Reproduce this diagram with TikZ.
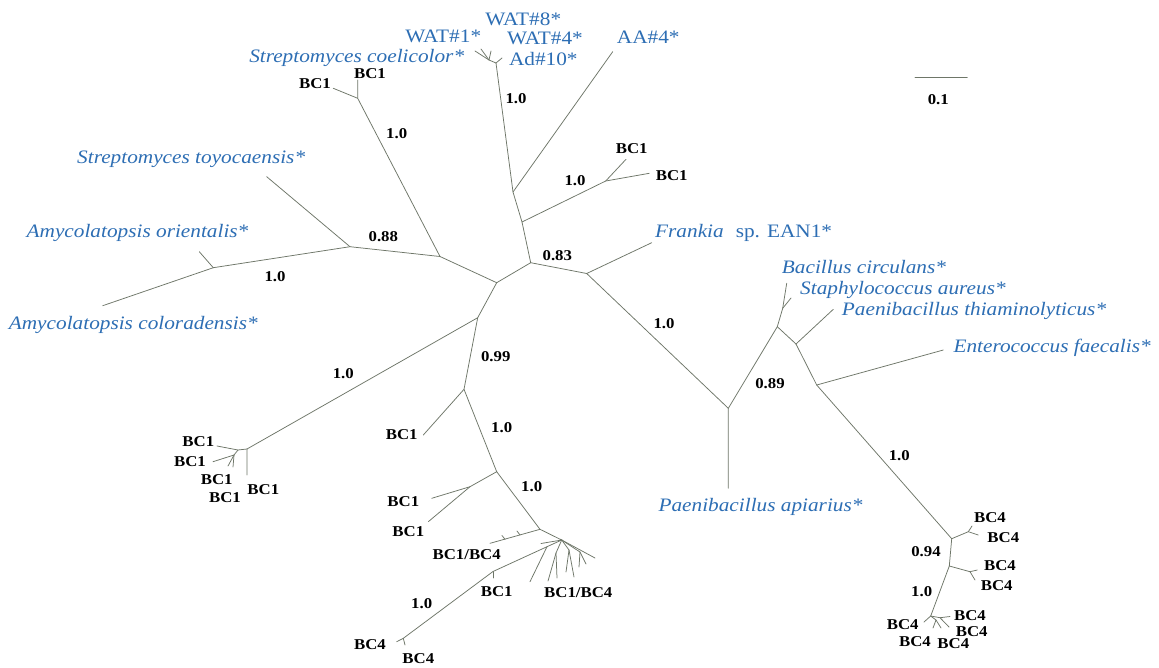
\documentclass[tikz,border=0pt]{standalone}
\usepackage{fontspec}
\setmainfont{Liberation Serif}[FakeStretch=1.12]
\definecolor{tax}{RGB}{45,110,180}
\definecolor{br}{RGB}{110,118,104}
\tikzset{
  branch/.style={draw=br, line width=0.75pt, line cap=round},
  taxon/.style={text=tax, font=\fontsize{19}{21}\selectfont\itshape, inner sep=0pt},
  taxonup/.style={text=tax, font=\fontsize{19}{21}\selectfont, inner sep=0pt},
  bc/.style={font=\fontsize{15}{17}\selectfont\bfseries, inner sep=0pt},
}
\begin{document}
\begin{tikzpicture}[x=1pt,y=-1pt]
\useasboundingbox[fill=white] (0,0) rectangle (1159,667);

% ---------- internal nodes and leaves ----------
\coordinate (c1) at (530.7,262.7);
\coordinate (b1) at (522,222);
\coordinate (b2) at (513,192);
\coordinate (wt) at (496,63);
\coordinate (w1) at (489,60);
\coordinate (wl1) at (475,51);
\coordinate (wl2) at (481,49);
\coordinate (wl3) at (491,51);
\coordinate (wl4) at (502,58);
\coordinate (aal) at (612.7,51.7);
\coordinate (bp) at (605.7,181);
\coordinate (bpl1) at (626,159.3);
\coordinate (bpl2) at (649.3,173.3);
\coordinate (f) at (586.7,273.5);
\coordinate (frl) at (651.7,242.7);
\coordinate (s) at (728.3,408.3);
\coordinate (apl) at (728.3,488.3);
\coordinate (t) at (777.3,326.7);
\coordinate (u) at (782.7,308.3);
\coordinate (bcl) at (786.7,283.3);
\coordinate (stl) at (791,298);
\coordinate (v) at (796,344);
\coordinate (thl) at (833.3,309.3);
\coordinate (w) at (816.7,385);
\coordinate (enl) at (943.3,350);
\coordinate (x) at (951.7,538.7);
\coordinate (x1) at (968.3,531.7);
\coordinate (x1a) at (972,526);
\coordinate (x1b) at (978.3,535);
\coordinate (y) at (949.3,566);
\coordinate (y1) at (970,571.7);
\coordinate (y1a) at (977.3,570);
\coordinate (y1b) at (975,580);
\coordinate (z) at (930.7,616);
\coordinate (z1) at (940,617.7);
\coordinate (z1a) at (950,616.5);
\coordinate (z1b) at (949,627);
\coordinate (z2) at (936,620);
\coordinate (z2a) at (933,628);
\coordinate (z2b) at (941,628);
\coordinate (z3) at (924,622);

\coordinate (c0) at (496.7,282.7);
\coordinate (l) at (440,256.5);
\coordinate (p) at (357.7,98.3);
\coordinate (pl1) at (357.7,80);
\coordinate (pl2) at (333.3,88.3);
\coordinate (m) at (350,246.7);
\coordinate (toyl) at (266.7,176.7);
\coordinate (n) at (213.3,267.7);
\coordinate (orl) at (199.3,251.7);
\coordinate (col) at (102.7,305.7);
\coordinate (d) at (477.7,317.7);
\coordinate (g) at (247,449);
\coordinate (gl) at (247,475);
\coordinate (h) at (238,450);
\coordinate (hl) at (217,446);
\coordinate (h2) at (234,455);
\coordinate (h2a) at (213,461.7);
\coordinate (h2b) at (228,466);
\coordinate (h2c) at (233,467);
\coordinate (e) at (464,389.3);
\coordinate (el) at (423.3,435);
\coordinate (j) at (496.7,471.7);
\coordinate (k) at (470,486.7);
\coordinate (kl1) at (431.7,498.3);
\coordinate (kl2) at (428.3,521.7);
\coordinate (q) at (540,529.3);
\coordinate (ql) at (490,543.3);
\coordinate (qt1) at (520,535);
\coordinate (qt1e) at (517,531);
\coordinate (qt2) at (505,539.3);
\coordinate (qt2e) at (502,535.5);
\coordinate (r) at (561.7,540);
\coordinate (rl0) at (541,543.5);
\coordinate (rb) at (547,546.7);
\coordinate (rbl) at (530,581.7);
\coordinate (bn1) at (493,571.5);
\coordinate (bn1l) at (493,578);
\coordinate (bn2) at (403.3,638.3);
\coordinate (bn2a) at (396.7,641.7);
\coordinate (bn2b) at (405,645);
\coordinate (g1) at (556,553);
\coordinate (g1a) at (548,581);
\coordinate (g1b) at (557,578);
\coordinate (g2) at (569,550);
\coordinate (g2a) at (566,572);
\coordinate (g2b) at (574,577);
\coordinate (g3) at (580,552);
\coordinate (g3a) at (579,567);
\coordinate (g3b) at (586,564);
\coordinate (g4) at (595,558);

% ---------- branches ----------
\draw[branch] (c0) -- (c1) -- (b1) -- (b2) -- (wt);
\draw[branch] (wt) -- (w1) -- (wl1);
\draw[branch] (w1) -- (wl2);
\draw[branch] (w1) -- (wl3);
\draw[branch] (wt) -- (wl4);
\draw[branch] (b2) -- (aal);
\draw[branch] (b1) -- (bp) -- (bpl1);
\draw[branch] (bp) -- (bpl2);
\draw[branch] (c1) -- (f) -- (frl);
\draw[branch] (f) -- (s) -- (apl);
\draw[branch] (s) -- (t) -- (u) -- (bcl);
\draw[branch] (u) -- (stl);
\draw[branch] (t) -- (v) -- (thl);
\draw[branch] (v) -- (w) -- (enl);
\draw[branch] (w) -- (x) -- (x1) -- (x1a);
\draw[branch] (x1) -- (x1b);
\draw[branch] (x) -- (y) -- (y1) -- (y1a);
\draw[branch] (y1) -- (y1b);
\draw[branch] (y) -- (z) -- (z1) -- (z1a);
\draw[branch] (z1) -- (z1b);
\draw[branch] (z) -- (z2) -- (z2a);
\draw[branch] (z2) -- (z2b);
\draw[branch] (z) -- (z3);

\draw[branch] (c0) -- (l) -- (p) -- (pl1);
\draw[branch] (p) -- (pl2);
\draw[branch] (l) -- (m) -- (toyl);
\draw[branch] (m) -- (n) -- (orl);
\draw[branch] (n) -- (col);
\draw[branch] (c0) -- (d) -- (g) -- (gl);
\draw[branch] (g) -- (h) -- (hl);
\draw[branch] (h) -- (h2) -- (h2a);
\draw[branch] (h2) -- (h2b);
\draw[branch] (h2) -- (h2c);
\draw[branch] (d) -- (e) -- (el);
\draw[branch] (e) -- (j) -- (k) -- (kl1);
\draw[branch] (k) -- (kl2);
\draw[branch] (j) -- (q) -- (ql);
\draw[branch] (qt1) -- (qt1e);
\draw[branch] (qt2) -- (qt2e);
\draw[branch] (q) -- (r) -- (rl0);
\draw[branch] (r) -- (rb) -- (bn1) -- (bn2) -- (bn2a);
\draw[branch] (bn2) -- (bn2b);
\draw[branch] (bn1) -- (bn1l);
\draw[branch] (rb) -- (rbl);
\draw[branch] (r) -- (g1) -- (g1a);
\draw[branch] (g1) -- (g1b);
\draw[branch] (r) -- (g2) -- (g2a);
\draw[branch] (g2) -- (g2b);
\draw[branch] (r) -- (g3) -- (g3a);
\draw[branch] (g3) -- (g3b);
\draw[branch] (r) -- (g4);

% ---------- scale bar ----------
\coordinate (sb1) at (915,77.7);
\coordinate (sb2) at (967.3,77.7);
\draw[branch] (sb1) -- (sb2);
\node[bc] (sbl) at (938.3,99.3) {0.1};

% ---------- taxon labels ----------
\node[taxonup] (lw8) at (523.3,19.5) {WAT\#8*};
\node[taxonup] (lw1) at (443.3,36.7) {WAT\#1*};
\node[taxonup] (lw4) at (545,38.3) {WAT\#4*};
\node[taxonup] (laa) at (648.3,37.3) {AA\#4*};
\node[taxon] (lsc) at (356.7,58.3) {Streptomyces coelicolor*};
\node[taxonup] (lad) at (543.3,58.8) {Ad\#10*};
\node[taxon] (lst) at (191.2,159.3) {Streptomyces toyocaensis*};
\node[taxon] (lao) at (137.5,233.3) {Amycolatopsis orientalis*};
\node[taxon] (lac) at (133.3,325) {Amycolatopsis coloradensis*};
\node[taxonup, anchor=west] (lfr) at (655,233.3) {\textit{Frankia}\hspace{12pt}sp. EAN1*};
\node[taxon, anchor=west] (lbc) at (781.7,266.7) {Bacillus circulans*};
\node[taxon, anchor=west] (lsa) at (800,290) {Staphylococcus aureus*};
\node[taxon, anchor=west] (lpt) at (841.7,310.7) {Paenibacillus thiaminolyticus*};
\node[taxon, anchor=west] (lef) at (953.3,348.3) {Enterococcus faecalis*};
\node[taxon] (lpa) at (760.5,506.7) {Paenibacillus apiarius*};

% ---------- BC labels ----------
\node[bc] at (315,83.3) {BC1};
\node[bc] at (370,74) {BC1};
\node[bc] at (631.7,148.3) {BC1};
\node[bc] at (671.7,176) {BC1};
\node[bc] at (198.3,441.7) {BC1};
\node[bc] at (190,461.7) {BC1};
\node[bc] at (216.7,480) {BC1};
\node[bc] at (225,497.3) {BC1};
\node[bc] at (263.3,490) {BC1};
\node[bc] at (401.7,435) {BC1};
\node[bc] at (403.3,501.7) {BC1};
\node[bc] at (408.3,531.7) {BC1};
\node[bc] at (466.7,555) {BC1/BC4};
\node[bc] at (496.7,591.7) {BC1};
\node[bc] at (578.3,592.7) {BC1/BC4};
\node[bc] at (370,645) {BC4};
\node[bc] at (418.3,659) {BC4};
\node[bc] at (990,517.3) {BC4};
\node[bc] at (1003.3,537.3) {BC4};
\node[bc] at (1000,566) {BC4};
\node[bc] at (996.7,585.7) {BC4};
\node[bc] at (902.7,625) {BC4};
\node[bc] at (915,641.7) {BC4};
\node[bc] at (953.3,644) {BC4};
\node[bc] at (970,616) {BC4};
\node[bc] at (971.7,631.7) {BC4};

% ---------- support values ----------
\node[bc] at (396.7,133.3) {1.0};
\node[bc] at (516,98.3) {1.0};
\node[bc] at (575,181) {1.0};
\node[bc] at (383.3,236.7) {0.88};
\node[bc] at (557.3,256) {0.83};
\node[bc] at (275,276.7) {1.0};
\node[bc] at (664,323.3) {1.0};
\node[bc] at (770,383.3) {0.89};
\node[bc] at (899.3,456) {1.0};
\node[bc] at (495.7,356.5) {0.99};
\node[bc] at (343.3,373.3) {1.0};
\node[bc] at (501.7,427.3) {1.0};
\node[bc] at (531.7,486.7) {1.0};
\node[bc] at (421.7,603.3) {1.0};
\node[bc] at (926,551.7) {0.94};
\node[bc] at (921.7,591.7) {1.0};
\end{tikzpicture}
\end{document}
